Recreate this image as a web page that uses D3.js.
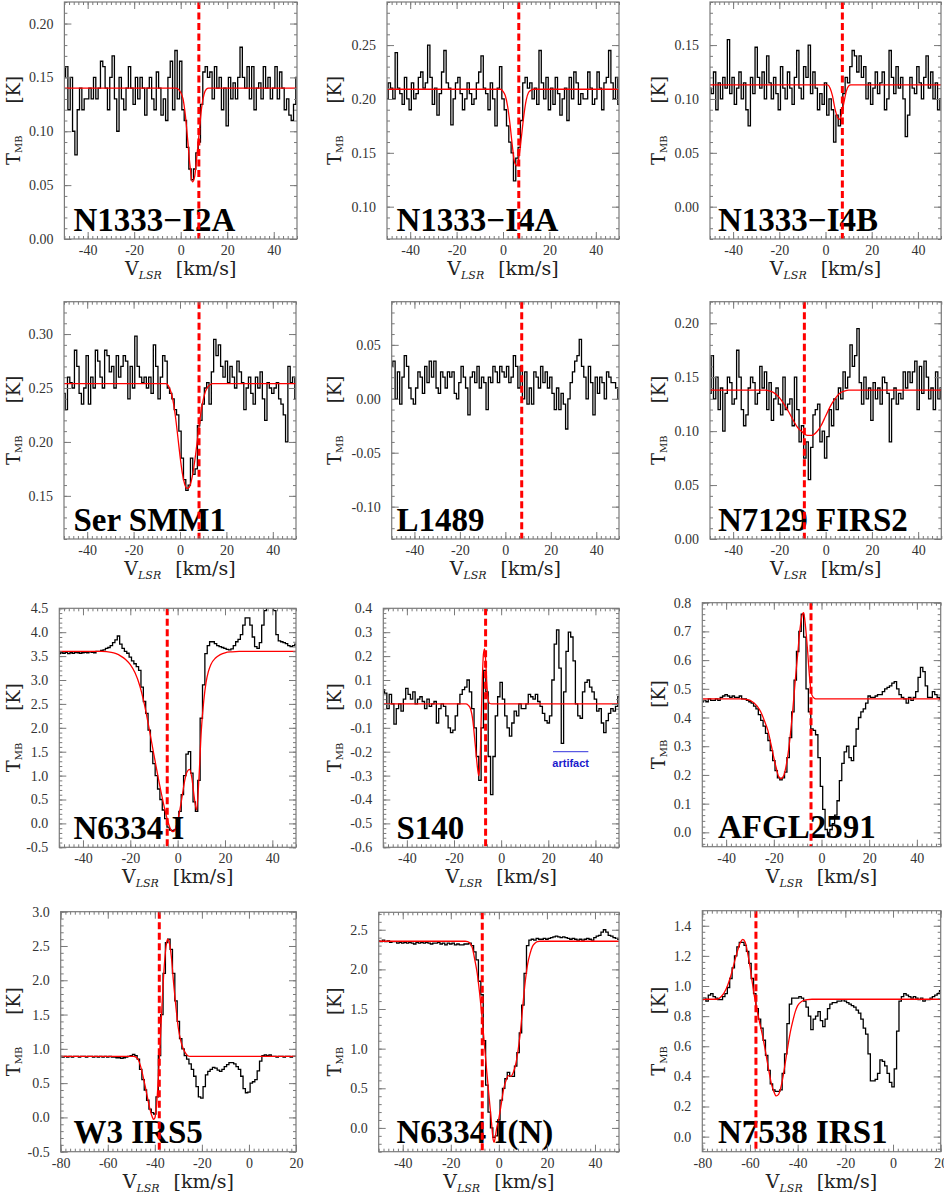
<!DOCTYPE html>
<html>
<head>
<meta charset="utf-8">
<script src="https://cdn.jsdelivr.net/npm/d3@7"></script>
<style>
  body { margin: 0; background: #fff; }
</style>
</head>
<body>
<svg id="chart" width="944" height="1200"></svg>
<script>
'use strict';

// ---- data (T_MB in K, 1 km/s channels) ----
var panelNames = ["N1333\u2212I2A", "N1333\u2212I4A", "N1333\u2212I4B",
                  "Ser SMM1", "L1489", "N7129 FIRS2",
                  "N6334 I", "S140", "AFGL2591",
                  "W3 IRS5", "N6334 I(N)", "N7538 IRS1"];
var sourceVlsr = [7.8, 6.8, 7.3, 8.2, 7.2, -9.2, -4.4, -6.6, -4.4, -38.1, -6.9, -57.5];
var chanStart = [-50, -50, -50, -50, -50, -50, -50, -50, -50, -80, -50, -80];
var chanWidth = 1;
var xLimits = [[-50, 50], [-50, 50], [-50, 50], [-50, 50], [-50, 50], [-50, 50],
               [-50, 50], [-50, 50], [-50, 50], [-80, 20], [-50, 50], [-80, 20]];
var yLimits = [[0, 0.22], [0.07, 0.29], [-0.03, 0.19],
               [0.11, 0.33], [-0.13, 0.09], [0, 0.22],
               [-0.5, 4.5], [-0.6, 0.4], [-0.05, 0.8],
               [-0.5, 3.0], [-0.3, 2.72], [-0.1, 1.5]];
var yTickStep = [0.05, 0.05, 0.05, 0.05, 0.05, 0.05, 0.5, 0.1, 0.1, 0.5, 0.5, 0.2];
var yTickDigits = [2, 2, 2, 2, 2, 2, 1, 1, 1, 1, 1, 1];

var tI2A = [0.15,0.16,0.12,0.15,0.10,0.078,0.12,0.14,0.12,0.13,
  0.13,0.14,0.13,0.15,0.13,0.14,0.165,0.16,0.14,0.12,
  0.15,0.17,0.13,0.10,0.15,0.13,0.12,0.14,0.16,0.14,
  0.125,0.15,0.13,0.15,0.14,0.115,0.14,0.15,0.13,0.12,
  0.155,0.14,0.115,0.13,0.11,0.15,0.165,0.12,0.175,0.13,
  0.165,0.12,0.11,0.085,0.065,0.055,0.065,0.08,0.09,0.125,
  0.155,0.16,0.15,0.155,0.13,0.16,0.14,0.15,0.12,0.14,
  0.105,0.15,0.13,0.145,0.13,0.15,0.178,0.15,0.14,0.16,
  0.13,0.16,0.12,0.14,0.145,0.13,0.16,0.14,0.15,0.13,
  0.14,0.16,0.13,0.155,0.14,0.12,0.13,0.115,0.11,0.125,
  0.15];
var tI4A = [0.20,0.215,0.21,0.20,0.243,0.21,0.205,0.195,0.22,0.20,
  0.19,0.215,0.20,0.205,0.22,0.225,0.21,0.215,0.25,0.22,
  0.195,0.21,0.185,0.205,0.225,0.245,0.215,0.21,0.176,0.20,
  0.215,0.22,0.205,0.19,0.20,0.215,0.205,0.195,0.20,0.215,
  0.225,0.24,0.21,0.205,0.19,0.215,0.20,0.175,0.21,0.23,
  0.20,0.19,0.175,0.16,0.15,0.124,0.145,0.155,0.18,0.215,
  0.22,0.21,0.215,0.20,0.21,0.195,0.245,0.215,0.20,0.22,
  0.19,0.21,0.195,0.22,0.205,0.185,0.20,0.21,0.18,0.22,
  0.20,0.225,0.215,0.195,0.205,0.20,0.20,0.225,0.21,0.195,
  0.20,0.225,0.21,0.19,0.215,0.22,0.245,0.215,0.20,0.22,
  0.195];
var tI4B = [0.11,0.105,0.125,0.09,0.115,0.10,0.12,0.11,0.155,0.105,
  0.12,0.095,0.11,0.125,0.10,0.115,0.09,0.075,0.12,0.105,
  0.148,0.12,0.11,0.125,0.10,0.14,0.115,0.10,0.12,0.105,
  0.09,0.13,0.11,0.10,0.125,0.11,0.095,0.12,0.145,0.11,
  0.10,0.13,0.12,0.15,0.105,0.125,0.11,0.09,0.105,0.095,
  0.115,0.085,0.10,0.09,0.06,0.085,0.075,0.09,0.105,0.12,
  0.115,0.13,0.145,0.14,0.125,0.14,0.12,0.13,0.10,0.115,
  0.095,0.11,0.125,0.105,0.115,0.125,0.09,0.10,0.145,0.12,
  0.105,0.13,0.11,0.12,0.10,0.065,0.085,0.12,0.11,0.105,
  0.13,0.115,0.10,0.12,0.14,0.11,0.125,0.10,0.115,0.09,
  0.10];
var tSMM1 = [0.245,0.23,0.26,0.255,0.25,0.285,0.27,0.245,0.235,0.25,
  0.28,0.235,0.26,0.25,0.285,0.275,0.26,0.25,0.285,0.28,
  0.265,0.27,0.25,0.28,0.26,0.27,0.28,0.275,0.24,0.27,
  0.25,0.298,0.27,0.26,0.255,0.26,0.25,0.26,0.245,0.29,
  0.27,0.24,0.26,0.28,0.275,0.25,0.245,0.24,0.23,0.225,
  0.21,0.185,0.165,0.155,0.16,0.185,0.17,0.175,0.215,0.22,
  0.235,0.25,0.255,0.235,0.265,0.295,0.28,0.29,0.27,0.26,
  0.275,0.255,0.27,0.26,0.25,0.275,0.265,0.255,0.23,0.25,
  0.26,0.245,0.235,0.26,0.25,0.265,0.24,0.22,0.255,0.25,
  0.245,0.25,0.255,0.24,0.235,0.225,0.20,0.27,0.255,0.26,
  0.24];
var tL1489 = [0.03,0.035,0.0,0.025,-0.005,0.02,0.04,0.03,0.01,0.0,
  -0.005,0.01,0.025,0.02,0.005,0.03,0.015,0.035,0.02,0.035,
  0.01,0.005,0.025,0.02,0.01,0.025,0.02,0.025,0.005,0.0,
  0.015,0.03,0.02,0.01,-0.015,0.02,0.025,0.015,0.03,0.01,
  0.02,0.015,-0.01,0.02,0.015,0.03,0.025,0.015,0.03,0.025,
  0.02,0.03,0.015,0.02,0.04,0.03,0.01,0.03,0.0,0.025,
  -0.005,0.01,-0.005,0.025,0.02,0.01,0.03,0.015,0.025,0.01,
  0.02,0.005,-0.01,0.01,-0.01,0.005,-0.005,-0.028,0.0,0.015,
  0.025,0.035,0.04,0.055,0.03,0.02,0.0,0.03,0.015,-0.015,
  0.02,0.005,0.02,0.015,0.0,0.025,0.02,0.015,0.015,0.01,
  0.0];
var tFIRS2 = [0.135,0.17,0.13,0.15,0.12,0.14,0.10,0.135,0.15,0.145,
  0.125,0.13,0.175,0.15,0.12,0.105,0.115,0.14,0.15,0.145,
  0.125,0.135,0.16,0.14,0.155,0.12,0.145,0.11,0.13,0.14,
  0.125,0.115,0.15,0.12,0.125,0.13,0.105,0.15,0.12,0.09,
  0.105,0.075,0.09,0.055,0.085,0.115,0.12,0.125,0.09,0.10,
  0.075,0.095,0.12,0.105,0.13,0.12,0.14,0.13,0.155,0.14,
  0.15,0.18,0.16,0.17,0.195,0.145,0.125,0.15,0.13,0.14,
  0.11,0.145,0.13,0.14,0.125,0.15,0.145,0.135,0.09,0.13,
  0.14,0.125,0.135,0.13,0.155,0.14,0.155,0.145,0.155,0.165,
  0.12,0.16,0.135,0.165,0.15,0.13,0.14,0.12,0.155,0.13,
  0.14];
var tN6334I = [3.55,3.57,3.56,3.58,3.55,3.57,3.56,3.58,3.57,3.56,
  3.57,3.58,3.57,3.59,3.58,3.57,3.6,3.6,3.62,3.63,
  3.66,3.68,3.72,3.78,3.84,3.92,3.75,3.66,3.6,3.56,
  3.48,3.4,3.34,3.28,3.2,2.85,2.55,2.3,1.95,1.5,
  1.25,1.0,0.72,0.5,0.28,0.1,-0.08,-0.14,-0.15,-0.13,
  -0.05,0.25,0.6,1.0,1.45,1.5,1.05,0.45,0.25,0.9,
  2.2,2.9,3.55,3.72,3.8,3.8,3.76,3.72,3.7,3.68,
  3.66,3.64,3.63,3.65,3.72,3.8,3.85,3.95,4.15,4.3,
  4.3,4.15,3.9,3.7,3.66,3.78,4.15,4.45,4.75,4.9,
  4.7,4.45,3.95,3.82,3.8,3.78,3.76,3.72,3.7,3.72,
  3.75];
var tS140 = [0.06,0.045,-0.02,0.04,0.0,-0.085,-0.02,0.0,-0.03,0.02,
  0.065,0.04,0.02,0.05,0.0,0.02,0.03,0.01,-0.02,0.02,
  -0.01,0.0,0.01,-0.08,-0.02,0.0,-0.01,-0.05,-0.1,-0.12,
  -0.11,-0.05,0.0,0.04,0.06,0.07,0.1,0.05,-0.02,-0.1,
  -0.22,-0.32,-0.1,0.14,0.05,-0.22,-0.38,-0.22,-0.05,0.03,
  0.09,0.02,-0.05,-0.1,-0.135,-0.08,-0.03,-0.05,0.0,-0.02,
  -0.02,0.0,0.04,0.03,0.02,0.04,0.01,-0.01,-0.04,-0.07,
  -0.08,-0.05,0.1,0.25,0.31,0.15,-0.165,0.05,0.22,0.3,
  0.28,0.18,0.0,-0.05,-0.06,0.05,0.09,0.1,0.07,0.05,
  0.02,-0.03,-0.02,-0.08,-0.12,-0.07,-0.04,-0.02,-0.03,-0.01,
  0.03];
var tAFGL = [0.455,0.46,0.455,0.465,0.46,0.46,0.465,0.46,0.47,0.475,
  0.48,0.475,0.47,0.475,0.47,0.47,0.475,0.465,0.465,0.46,
  0.455,0.45,0.44,0.43,0.41,0.39,0.37,0.345,0.32,0.285,
  0.25,0.215,0.19,0.183,0.19,0.21,0.26,0.33,0.42,0.53,
  0.63,0.7,0.76,0.68,0.5,0.42,0.36,0.355,0.34,0.26,
  0.16,0.08,0.01,-0.01,0.01,0.03,0.06,0.11,0.18,0.24,
  0.28,0.3,0.26,0.25,0.3,0.36,0.4,0.42,0.43,0.45,
  0.475,0.47,0.47,0.475,0.48,0.48,0.49,0.5,0.505,0.51,
  0.52,0.525,0.5,0.48,0.47,0.465,0.45,0.47,0.46,0.47,
  0.49,0.54,0.575,0.56,0.51,0.47,0.47,0.49,0.48,0.47,
  0.465];
var tW3 = [0.89,0.88,0.89,0.88,0.89,0.88,0.89,0.89,0.88,0.89,
  0.89,0.88,0.89,0.89,0.88,0.89,0.88,0.89,0.88,0.89,
  0.88,0.89,0.88,0.88,0.87,0.87,0.86,0.87,0.88,0.89,
  0.9,0.92,0.9,0.85,0.7,0.55,0.4,0.25,0.12,0.07,
  0.05,0.3,0.9,1.5,2.1,2.55,2.6,2.45,2.1,1.7,
  1.4,1.15,1.0,0.9,0.85,0.78,0.7,0.6,0.45,0.3,
  0.28,0.45,0.62,0.67,0.7,0.73,0.72,0.69,0.67,0.7,
  0.74,0.77,0.8,0.8,0.78,0.74,0.7,0.6,0.42,0.36,
  0.37,0.5,0.52,0.55,0.68,0.82,0.9,0.91,0.9,0.91,
  0.89,0.89,0.88,0.89,0.89,0.88,0.89,0.89,0.88,0.89,
  0.89];
var tN6334IN = [2.36,2.35,2.37,2.35,2.36,2.34,2.35,2.35,2.33,2.34,
  2.33,2.34,2.33,2.34,2.33,2.32,2.34,2.33,2.34,2.33,
  2.34,2.33,2.32,2.33,2.33,2.34,2.32,2.33,2.31,2.33,
  2.32,2.33,2.31,2.32,2.31,2.31,2.32,2.32,2.33,2.3,
  2.22,2.12,1.85,1.68,1.1,0.54,0.2,0.0,-0.12,-0.1,
  0.1,0.35,0.5,0.62,0.7,0.65,0.65,0.78,0.95,1.2,
  1.55,1.95,2.3,2.37,2.38,2.37,2.39,2.38,2.38,2.39,
  2.38,2.39,2.4,2.41,2.42,2.41,2.4,2.41,2.4,2.39,
  2.38,2.39,2.38,2.37,2.38,2.37,2.38,2.39,2.38,2.37,
  2.4,2.42,2.43,2.47,2.5,2.47,2.43,2.42,2.4,2.39,
  2.38];
var tN7538 = [0.91,0.92,0.9,0.94,0.95,0.93,0.92,0.91,0.91,0.93,
  0.95,0.99,1.05,1.12,1.2,1.26,1.29,1.29,1.27,1.23,
  1.15,1.05,0.95,0.85,0.78,0.72,0.64,0.54,0.44,0.35,
  0.31,0.3,0.3,0.31,0.42,0.55,0.75,0.88,0.92,0.92,
  0.92,0.93,0.92,0.9,0.86,0.8,0.71,0.78,0.8,0.83,
  0.77,0.73,0.78,0.85,0.88,0.89,0.89,0.9,0.9,0.91,
  0.9,0.89,0.88,0.87,0.86,0.84,0.82,0.78,0.72,0.68,
  0.55,0.37,0.37,0.38,0.42,0.51,0.5,0.47,0.42,0.36,
  0.33,0.45,0.7,0.9,0.93,0.95,0.94,0.93,0.92,0.93,
  0.92,0.91,0.92,0.9,0.91,0.91,0.92,0.93,0.94,0.95,
  0.97];

// fitted model profiles, [v, T]
var fitI2A = [[-50,0.14],[-2,0.14],[0,0.136],[1,0.13],[2,0.115],[3,0.092],[4,0.068],[5,0.053],
  [6,0.058],[7,0.078],[8,0.1],[9,0.122],[10,0.134],[11,0.139],[12,0.14],[50,0.14]];
var fitI4A = [[-50,0.209],[-1,0.209],[0,0.207],[1,0.203],[2,0.193],[3,0.177],[4,0.157],[5,0.141],
  [6,0.138],[7,0.148],[8,0.166],[9,0.185],[10,0.199],[11,0.206],[12,0.208],[13,0.209],[50,0.209]];
var fitI4B = [[-50,0.113],[1,0.113],[2,0.11],[3,0.103],[4,0.092],[5,0.084],[6,0.081],[7,0.086],
  [8,0.097],[9,0.107],[10,0.112],[11,0.113],[50,0.113]];
var fitSMM1 = [[-50,0.254],[-6,0.254],[-5,0.252],[-4,0.247],[-3,0.238],[-2,0.224],[-1,0.206],[0,0.187],
  [1,0.171],[2,0.161],[3,0.157],[4,0.158],[5,0.165],[6,0.177],[7,0.193],[8,0.211],[9,0.227],
  [10,0.239],[11,0.247],[12,0.251],[13,0.253],[14,0.254],[50,0.254]];
var fitFIRS2 = [[-50,0.138],[-26,0.138],[-24,0.137],[-22,0.135],[-20,0.131],[-18,0.125],[-16,0.118],
  [-14,0.11],[-12,0.103],[-10,0.099],[-8,0.096],[-6,0.096],[-4,0.099],[-2,0.105],[0,0.114],
  [2,0.123],[4,0.13],[6,0.135],[8,0.137],[10,0.138],[50,0.138]];
var fitN6334I = [[-50,3.6],[-32,3.6],[-28,3.58],[-26,3.55],[-24,3.5],[-22,3.43],[-20,3.32],[-18,3.15],
  [-16,2.88],[-14,2.48],[-12,1.97],[-10,1.43],[-8,0.9],[-6,0.42],[-5,0.2],[-4,0.02],[-3,-0.12],
  [-2,-0.17],[-1,-0.12],[0,0.05],[1,0.3],[2,0.6],[3,0.9],[4,1.08],[5,1.13],[6,0.95],[7,0.55],
  [8,0.28],[9,0.95],[10,1.95],[11,2.55],[12,2.95],[13,3.18],[14,3.32],[16,3.46],[18,3.53],
  [20,3.57],[23,3.59],[26,3.6],[50,3.6]];
var fitS140 = [[-50,0],[-15,0],[-14,-0.005],[-13,-0.02],[-12,-0.07],[-11,-0.17],[-10,-0.27],
  [-9.5,-0.3],[-9,-0.25],[-8.5,-0.08],[-8,0.1],[-7.5,0.21],[-7,0.23],[-6.5,0.17],[-6,0.07],
  [-5.5,0.02],[-5,0.003],[-4,0],[50,0]];
var fitAFGL = [[-50,0.465],[-34,0.465],[-31,0.462],[-29,0.455],[-27,0.44],[-25.5,0.42],[-24,0.39],
  [-22.5,0.355],[-21,0.3],[-20,0.26],[-19,0.225],[-18,0.195],[-17,0.187],[-16,0.195],[-15,0.225],
  [-14,0.275],[-13,0.345],[-12,0.43],[-11,0.53],[-10,0.62],[-9,0.71],[-8,0.76],[-7.5,0.765],
  [-7,0.74],[-6,0.65],[-5,0.54],[-4.5,0.5],[-4,0.478],[-3,0.467],[-2,0.465],[50,0.465]];
var fitW3 = [[-80,0.89],[-49,0.89],[-48,0.88],[-47,0.84],[-46,0.74],[-45,0.6],[-44,0.44],[-43,0.27],
  [-42,0.11],[-41,0.0],[-40.5,-0.03],[-40,-0.01],[-39,0.3],[-38,0.9],[-37,1.6],[-36,2.2],
  [-35,2.55],[-34.5,2.6],[-34,2.57],[-33,2.35],[-32,1.95],[-31,1.6],[-30,1.3],[-29,1.12],
  [-28,1.01],[-27,0.94],[-26,0.9],[-25,0.89],[20,0.89]];
var fitN6334IN = [[-50,2.355],[-14,2.355],[-13,2.35],[-12,2.33],[-11,2.27],[-10,2.12],[-9,1.95],
  [-8,1.7],[-7,1.4],[-6,1.05],[-5,0.7],[-4,0.37],[-3,0.05],[-2.5,-0.12],[-2,-0.18],[-1.5,-0.12],
  [-1,-0.02],[0,0.12],[1,0.3],[2,0.49],[3,0.6],[4,0.66],[5,0.65],[6,0.7],[7,0.8],[8,0.98],
  [9,1.22],[10,1.55],[11,1.85],[12,2.07],[13,2.2],[14,2.29],[15,2.33],[16,2.35],[17,2.355],[50,2.355]];
var fitN7538 = [[-80,0.912],[-74,0.912],[-72,0.93],[-70,0.98],[-68,1.07],[-66,1.19],[-64,1.29],
  [-63,1.31],[-62,1.29],[-61,1.22],[-60,1.13],[-59,1.02],[-58,0.92],[-57,0.84],[-56,0.76],
  [-55,0.69],[-54,0.61],[-53,0.52],[-52,0.43],[-51,0.35],[-50,0.3],[-49,0.27],[-48,0.28],
  [-47,0.33],[-46,0.41],[-45,0.51],[-44,0.61],[-43,0.7],[-42,0.77],[-41,0.83],[-40,0.87],
  [-38,0.9],[-36,0.91],[-34,0.912],[20,0.912]];

var spectra = [tI2A, tI4A, tI4B, tSMM1, tL1489, tFIRS2, tN6334I, tS140, tAFGL, tW3, tN6334IN, tN7538];
var fits = [fitI2A, fitI4A, fitI4B, fitSMM1, null, fitFIRS2, fitN6334I, fitS140, fitAFGL, fitW3, fitN6334IN, fitN7538];

// ---- page layout: plot frames [left, right, top, bottom] ----
var frames = [
  [64.4, 297, 2, 239], [387, 619, 2, 239], [710, 941, 2, 239],
  [64, 296, 301.7, 539], [391.7, 619, 301.7, 539], [710, 941.3, 301.7, 539],
  [59.3, 296, 608.3, 847.3], [383.3, 619, 608.3, 847.3], [702.3, 940.7, 602.7, 846.7],
  [60.7, 296, 911.7, 1151.7], [378.7, 619, 912.3, 1151.7], [702.3, 940.7, 910.7, 1151.7]
];
var yTitleX = [19.5, 341, 665];
var nameX = [73.5, 396.5, 718];

var frameColor = "#7a7a7a";
var tickFont = "Liberation Serif";
var titleFont = "DejaVu Serif";

var svg = d3.select("#chart");

function tickRange(lo, hi, step) {
    var k0 = Math.ceil(lo / step - 1e-6);
    var k1 = Math.floor(hi / step + 1e-6);
    return d3.range(k0, k1 + 1).map(function(k) { return Math.round(k * step * 1e6) / 1e6; });
}

function styleAxis(g) {
    g.select(".domain").remove();
    g.selectAll(".tick line").attr("stroke", frameColor).attr("stroke-width", 1);
    g.selectAll(".tick text")
        .attr("fill", "#333")
        .attr("font-family", tickFont)
        .attr("font-size", 14);
}

function drawPanel(i) {
    var f = frames[i];
    var col = i % 3;
    var x = d3.scaleLinear().domain(xLimits[i]).range([f[0], f[1]]);
    var y = d3.scaleLinear().domain(yLimits[i]).range([f[3], f[2]]);
    var g = svg.append("g").attr("class", "panel p" + i);

    var clipId = "clip" + i;
    g.append("clipPath").attr("id", clipId)
        .append("rect")
        .attr("x", f[0]).attr("y", f[2])
        .attr("width", f[1] - f[0]).attr("height", f[3] - f[2]);

    // observed spectrum, histogram style
    var spec = spectra[i].map(function(t, k) { return [chanStart[i] + k * chanWidth, t]; });
    var specLine = d3.line()
        .x(function(d) { return x(d[0]); })
        .y(function(d) { return y(d[1]); })
        .curve(d3.curveStep);
    g.append("path")
        .datum(spec)
        .attr("clip-path", "url(#" + clipId + ")")
        .attr("fill", "none")
        .attr("stroke", "#000")
        .attr("stroke-width", 1.3)
        .attr("d", specLine);

    // model fit
    if (fits[i]) {
        var fitLine = d3.line()
            .x(function(d) { return x(d[0]); })
            .y(function(d) { return y(d[1]); })
            .curve(d3.curveMonotoneX);
        g.append("path")
            .datum(fits[i])
            .attr("clip-path", "url(#" + clipId + ")")
            .attr("fill", "none")
            .attr("stroke", "#ff0000")
            .attr("stroke-width", 1.3)
            .attr("d", fitLine);
    }

    // artifact marker for S140
    if (i === 7) {
        g.append("line")
            .attr("x1", x(22)).attr("x2", x(37))
            .attr("y1", y(-0.2)).attr("y2", y(-0.2))
            .attr("stroke", "#3333dd").attr("stroke-width", 1);
        g.append("text")
            .attr("x", x(29.5)).attr("y", y(-0.2) + 15)
            .attr("text-anchor", "middle")
            .attr("font-family", "Liberation Sans")
            .attr("font-weight", "bold")
            .attr("font-size", 11)
            .attr("fill", "#1a1acc")
            .text("artifact");
    }

    // source name
    g.append("text")
        .attr("x", nameX[col])
        .attr("y", f[3] - 8.5)
        .attr("font-family", "Liberation Serif")
        .attr("font-weight", "bold")
        .attr("font-size", 33)
        .attr("fill", "#000")
        .text(panelNames[i]);

    // source velocity
    g.append("line")
        .attr("x1", x(sourceVlsr[i])).attr("x2", x(sourceVlsr[i]))
        .attr("y1", f[2]).attr("y2", f[3])
        .attr("stroke", "#ff0000")
        .attr("stroke-width", 3)
        .attr("stroke-dasharray", "7,3.5");

    // frame
    g.append("rect")
        .attr("x", f[0]).attr("y", f[2])
        .attr("width", f[1] - f[0]).attr("height", f[3] - f[2])
        .attr("fill", "none")
        .attr("stroke", frameColor)
        .attr("stroke-width", 1.2);

    // axes, ticks pointing inward on all sides
    var xMajor = tickRange(xLimits[i][0], xLimits[i][1], 20);
    var xMinor = tickRange(xLimits[i][0], xLimits[i][1], 2);
    var yMajor = tickRange(yLimits[i][0], yLimits[i][1], yTickStep[i]);
    var yMinor = tickRange(yLimits[i][0], yLimits[i][1], yTickStep[i] / 5);
    var yFmt = function(v) { return v.toFixed(yTickDigits[i]); };
    var xFmt = function(v) { return String(v); };

    g.append("g").attr("transform", "translate(0," + f[3] + ")")
        .call(d3.axisBottom(x).tickValues(xMinor).tickSizeInner(-3).tickSizeOuter(0).tickFormat(""))
        .call(styleAxis);
    g.append("g").attr("transform", "translate(0," + f[3] + ")")
        .call(d3.axisBottom(x).tickValues(xMajor).tickSizeInner(-7).tickSizeOuter(0).tickPadding(6).tickFormat(xFmt))
        .call(styleAxis);
    g.append("g").attr("transform", "translate(0," + f[2] + ")")
        .call(d3.axisTop(x).tickValues(xMinor).tickSizeInner(-3).tickSizeOuter(0).tickFormat(""))
        .call(styleAxis);
    g.append("g").attr("transform", "translate(0," + f[2] + ")")
        .call(d3.axisTop(x).tickValues(xMajor).tickSizeInner(-7).tickSizeOuter(0).tickFormat(""))
        .call(styleAxis);
    g.append("g").attr("transform", "translate(" + f[0] + ",0)")
        .call(d3.axisLeft(y).tickValues(yMinor).tickSizeInner(-3).tickSizeOuter(0).tickFormat(""))
        .call(styleAxis);
    g.append("g").attr("transform", "translate(" + f[0] + ",0)")
        .call(d3.axisLeft(y).tickValues(yMajor).tickSizeInner(-7).tickSizeOuter(0).tickPadding(11).tickFormat(yFmt))
        .call(styleAxis);
    g.append("g").attr("transform", "translate(" + f[1] + ",0)")
        .call(d3.axisRight(y).tickValues(yMinor).tickSizeInner(-3).tickSizeOuter(0).tickFormat(""))
        .call(styleAxis);
    g.append("g").attr("transform", "translate(" + f[1] + ",0)")
        .call(d3.axisRight(y).tickValues(yMajor).tickSizeInner(-7).tickSizeOuter(0).tickFormat(""))
        .call(styleAxis);

    // axis titles
    var xt = g.append("text")
        .attr("x", (f[0] + f[1]) / 2)
        .attr("y", f[3] + 36)
        .attr("text-anchor", "middle")
        .attr("font-family", titleFont)
        .attr("font-size", 19)
        .attr("fill", "#222");
    xt.append("tspan").text("V");
    xt.append("tspan").attr("font-size", 11).attr("font-style", "italic").attr("dy", 4).text("LSR");
    xt.append("tspan").attr("dy", -4).attr("dx", 14).text("[km/s]");

    var yt = g.append("text")
        .attr("transform", "translate(" + yTitleX[col] + "," + ((f[2] + f[3]) / 2) + ") rotate(-90)")
        .attr("text-anchor", "middle")
        .attr("font-family", titleFont)
        .attr("font-size", 18)
        .attr("fill", "#222");
    yt.append("tspan").text("T");
    yt.append("tspan").attr("font-size", 10).attr("dy", 2).text("MB");
    yt.append("tspan").attr("dy", -2).attr("dx", 32).text("[K]");
}

for (var i = 0; i < spectra.length; i++) {
    drawPanel(i);
}
</script>
</body>
</html>
